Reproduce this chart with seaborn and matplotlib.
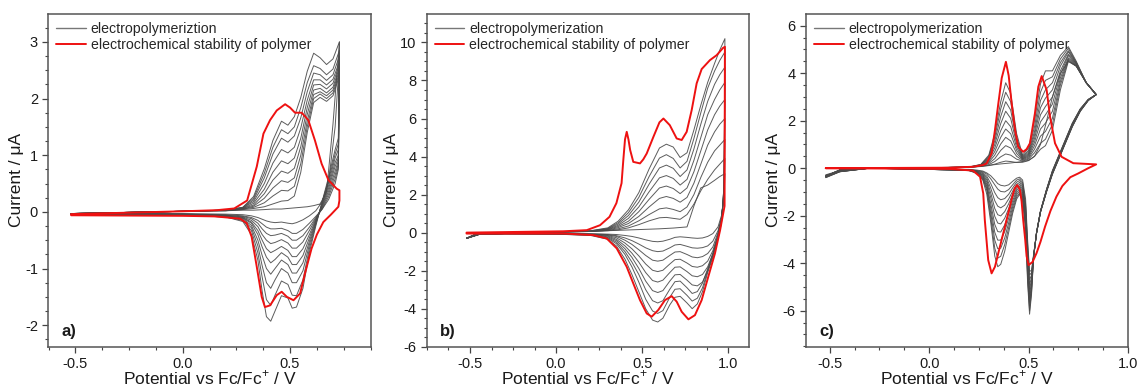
import matplotlib
matplotlib.use("Agg")
import matplotlib.pyplot as plt
from matplotlib.lines import Line2D
from matplotlib.ticker import MultipleLocator, FormatStrFormatter
import seaborn as sns

# ---------------- Panel a ----------------
A_FWD_E = [-0.52, 0.0, 0.2, 0.28, 0.33, 0.38, 0.42, 0.46, 0.49, 0.52, 0.55, 0.58, 0.61, 0.64, 0.67, 0.70, 0.73]
A_FWD = [
    [-0.03, 0.01, 0.02, 0.03, 0.03, 0.04, 0.05, 0.05, 0.06, 0.07, 0.08, 0.09, 0.11, 0.14, 0.35, 1.55, 3.0],
    [-0.03, 0.01, 0.02, 0.04, 0.06, 0.09, 0.14, 0.19, 0.2, 0.28, 0.7, 1.4, 1.93, 2.02, 1.95, 2.05, 2.4],
    [-0.03, 0.01, 0.02, 0.05, 0.08, 0.16, 0.28, 0.38, 0.37, 0.45, 0.85, 1.5, 2.0, 2.08, 2.0, 2.1, 2.45],
    [-0.03, 0.01, 0.03, 0.05, 0.1, 0.24, 0.42, 0.55, 0.52, 0.6, 1.0, 1.6, 2.07, 2.12, 2.05, 2.15, 2.5],
    [-0.03, 0.01, 0.03, 0.06, 0.12, 0.32, 0.56, 0.72, 0.68, 0.77, 1.15, 1.72, 2.15, 2.18, 2.1, 2.2, 2.55],
    [-0.03, 0.01, 0.03, 0.06, 0.15, 0.4, 0.7, 0.9, 0.85, 0.95, 1.3, 1.84, 2.24, 2.25, 2.17, 2.27, 2.6],
    [-0.03, 0.01, 0.03, 0.07, 0.18, 0.5, 0.86, 1.1, 1.04, 1.14, 1.48, 1.97, 2.33, 2.33, 2.24, 2.34, 2.65],
    [-0.03, 0.01, 0.03, 0.07, 0.21, 0.6, 1.02, 1.3, 1.23, 1.34, 1.66, 2.12, 2.45, 2.42, 2.32, 2.42, 2.75],
    [-0.03, 0.01, 0.03, 0.08, 0.24, 0.68, 1.14, 1.45, 1.38, 1.5, 1.84, 2.28, 2.58, 2.53, 2.42, 2.52, 2.85],
    [-0.03, 0.01, 0.03, 0.08, 0.27, 0.76, 1.26, 1.6, 1.53, 1.68, 2.02, 2.48, 2.8, 2.72, 2.6, 2.7, 3.0],
]
A_REV_E = [0.73, 0.725, 0.71, 0.68, 0.65, 0.62, 0.59, 0.56, 0.53, 0.51, 0.49, 0.46, 0.43, 0.41, 0.39, 0.37, 0.35, 0.32, 0.28, 0.2, 0.0, -0.52]
A_REV = [
    [3.0, 2.4, 1.5, 0.55, 0.18, 0.02, -0.07, -0.14, -0.19, -0.21, -0.2, -0.18, -0.19, -0.18, -0.16, -0.13, -0.1, -0.07, -0.05, -0.04, -0.03, -0.03],
    [2.4, 0.75, 0.5, 0.22, 0.05, -0.08, -0.2, -0.31, -0.38, -0.38, -0.33, -0.29, -0.3, -0.3, -0.27, -0.21, -0.15, -0.1, -0.07, -0.05, -0.04, -0.03],
    [2.45, 0.8, 0.58, 0.27, 0.05, -0.1, -0.27, -0.42, -0.5, -0.5, -0.43, -0.38, -0.41, -0.42, -0.38, -0.3, -0.2, -0.12, -0.08, -0.06, -0.04, -0.03],
    [2.5, 0.85, 0.65, 0.32, 0.07, -0.12, -0.33, -0.53, -0.64, -0.64, -0.55, -0.49, -0.54, -0.56, -0.5, -0.4, -0.26, -0.15, -0.09, -0.06, -0.04, -0.03],
    [2.55, 0.9, 0.72, 0.37, 0.09, -0.14, -0.4, -0.65, -0.79, -0.79, -0.68, -0.61, -0.68, -0.72, -0.65, -0.5, -0.33, -0.18, -0.1, -0.07, -0.05, -0.03],
    [2.6, 0.95, 0.8, 0.42, 0.11, -0.16, -0.46, -0.77, -0.93, -0.93, -0.8, -0.72, -0.84, -0.9, -0.8, -0.62, -0.4, -0.2, -0.11, -0.07, -0.05, -0.04],
    [2.65, 1.0, 0.87, 0.47, 0.13, -0.18, -0.52, -0.9, -1.08, -1.08, -0.93, -0.85, -1.0, -1.1, -1.0, -0.77, -0.5, -0.24, -0.12, -0.08, -0.05, -0.04],
    [2.75, 1.1, 0.95, 0.52, 0.15, -0.2, -0.58, -1.04, -1.25, -1.25, -1.08, -1.0, -1.2, -1.35, -1.25, -0.95, -0.6, -0.28, -0.14, -0.08, -0.05, -0.04],
    [2.85, 1.2, 1.02, 0.57, 0.17, -0.22, -0.65, -1.2, -1.48, -1.47, -1.28, -1.22, -1.47, -1.65, -1.55, -1.15, -0.72, -0.33, -0.15, -0.09, -0.06, -0.04],
    [3.0, 1.3, 1.1, 0.62, 0.19, -0.25, -0.72, -1.35, -1.68, -1.7, -1.52, -1.48, -1.75, -1.93, -1.85, -1.4, -0.85, -0.4, -0.17, -0.09, -0.06, -0.04],
]
A_RED_E = [-0.52, 0.0, 0.16, 0.24, 0.3, 0.345, 0.376, 0.407, 0.438, 0.477, 0.5, 0.523, 0.554, 0.585, 0.616,
           0.647, 0.679, 0.717, 0.73, 0.73, 0.725, 0.69, 0.655, 0.625, 0.6, 0.57, 0.547, 0.516, 0.485, 0.461,
           0.438, 0.407, 0.383, 0.368, 0.345, 0.321, 0.298, 0.267, 0.15, 0.0, -0.52]
A_RED_I = [-0.04, 0.01, 0.03, 0.06, 0.2, 0.8, 1.38, 1.62, 1.79, 1.9, 1.84, 1.75, 1.75, 1.62, 1.26,
           0.85, 0.56, 0.41, 0.38, 0.2, 0.09, -0.05, -0.18, -0.4, -0.65, -1.08, -1.44, -1.56, -1.5, -1.41,
           -1.47, -1.65, -1.68, -1.5, -0.97, -0.44, -0.2, -0.12, -0.08, -0.07, -0.06]

# ---------------- Panel b ----------------
B_FWD_E = [-0.52, -0.45, 0.0, 0.2, 0.3, 0.36, 0.42, 0.48, 0.54, 0.6, 0.64, 0.68, 0.72, 0.76, 0.8, 0.84, 0.88, 0.92, 0.95, 0.98]
B_FWD = [
    [-0.3, -0.02, 0.03, 0.06, 0.1, 0.12, 0.14, 0.16, 0.18, 0.2, 0.22, 0.24, 0.27, 0.3, 1.4, 2.35, 2.5, 2.75, 2.95, 3.1],
    [-0.3, -0.02, 0.03, 0.06, 0.1, 0.15, 0.25, 0.42, 0.62, 0.78, 0.8, 0.75, 0.7, 0.95, 1.5, 2.2, 2.8, 3.3, 3.6, 3.9],
    [-0.3, -0.02, 0.03, 0.06, 0.12, 0.2, 0.35, 0.62, 0.95, 1.25, 1.3, 1.22, 1.1, 1.35, 2.0, 2.9, 3.7, 4.3, 4.6, 4.9],
    [-0.3, -0.02, 0.03, 0.07, 0.14, 0.26, 0.48, 0.85, 1.35, 1.8, 1.9, 1.8, 1.6, 1.85, 2.6, 3.6, 4.6, 5.3, 5.7, 6.0],
    [-0.3, -0.02, 0.03, 0.07, 0.16, 0.32, 0.6, 1.1, 1.75, 2.35, 2.45, 2.32, 2.05, 2.35, 3.2, 4.3, 5.4, 6.2, 6.65, 7.0],
    [-0.3, -0.02, 0.03, 0.08, 0.18, 0.38, 0.75, 1.35, 2.15, 2.88, 3.0, 2.85, 2.5, 2.8, 3.8, 5.0, 6.2, 7.0, 7.5, 7.9],
    [-0.3, -0.02, 0.03, 0.08, 0.2, 0.45, 0.9, 1.6, 2.55, 3.4, 3.55, 3.38, 2.95, 3.3, 4.4, 5.7, 6.9, 7.8, 8.3, 8.7],
    [-0.3, -0.02, 0.03, 0.09, 0.22, 0.52, 1.05, 1.85, 2.95, 3.92, 4.1, 3.9, 3.4, 3.75, 4.95, 6.3, 7.6, 8.5, 9.05, 9.5],
    [-0.3, -0.02, 0.03, 0.1, 0.25, 0.6, 1.2, 2.1, 3.35, 4.45, 4.65, 4.5, 3.95, 4.2, 5.4, 6.7, 7.9, 8.9, 9.6, 10.2],
]
B_REV_E = [0.98, 0.975, 0.96, 0.94, 0.91, 0.88, 0.85, 0.82, 0.79, 0.76, 0.72, 0.69, 0.66, 0.62, 0.59, 0.56, 0.52,
           0.48, 0.44, 0.40, 0.35, 0.3, 0.2, 0.0, -0.3, -0.45, -0.52]
B_REV = [
    [3.1, 1.8, 0.9, 0.3, -0.05, -0.2, -0.28, -0.3, -0.28, -0.25, -0.22, -0.25, -0.35, -0.45, -0.48, -0.46, -0.38, -0.28, -0.2, -0.15, -0.1, -0.08, -0.06, -0.05, -0.05, -0.1, -0.3],
    [3.9, 1.9, 0.8, 0.1, -0.45, -0.7, -0.79, -0.82, -0.8, -0.72, -0.62, -0.65, -0.8, -0.97, -1.0, -0.95, -0.8, -0.6, -0.42, -0.28, -0.16, -0.1, -0.07, -0.05, -0.05, -0.1, -0.3],
    [4.9, 2.0, 0.75, 0.0, -0.75, -1.1, -1.26, -1.32, -1.28, -1.15, -1.0, -1.02, -1.2, -1.45, -1.5, -1.45, -1.2, -0.9, -0.62, -0.4, -0.2, -0.12, -0.08, -0.05, -0.05, -0.1, -0.3],
    [6.0, 2.1, 0.7, -0.08, -0.95, -1.5, -1.74, -1.82, -1.78, -1.6, -1.4, -1.42, -1.65, -1.98, -2.05, -1.98, -1.65, -1.22, -0.85, -0.55, -0.27, -0.15, -0.09, -0.06, -0.05, -0.1, -0.3],
    [7.0, 2.2, 0.65, -0.15, -1.1, -1.8, -2.2, -2.32, -2.27, -2.05, -1.8, -1.82, -2.1, -2.5, -2.6, -2.52, -2.1, -1.55, -1.08, -0.7, -0.35, -0.18, -0.1, -0.06, -0.05, -0.1, -0.3],
    [7.9, 2.3, 0.6, -0.2, -1.2, -2.0, -2.6, -2.8, -2.75, -2.5, -2.2, -2.22, -2.55, -3.05, -3.15, -3.05, -2.55, -1.88, -1.3, -0.85, -0.42, -0.22, -0.11, -0.07, -0.06, -0.1, -0.3],
    [8.7, 2.4, 0.6, -0.2, -1.1, -1.9, -2.65, -3.1, -3.2, -2.9, -2.55, -2.58, -2.98, -3.58, -3.7, -3.58, -3.0, -2.2, -1.55, -1.0, -0.5, -0.26, -0.12, -0.07, -0.06, -0.1, -0.3],
    [9.5, 2.5, 0.55, -0.25, -1.2, -2.0, -2.9, -3.45, -3.6, -3.3, -2.95, -2.98, -3.4, -4.1, -4.25, -4.12, -3.5, -2.6, -1.8, -1.15, -0.58, -0.3, -0.13, -0.08, -0.06, -0.1, -0.3],
    [10.2, 2.5, 0.5, -0.3, -1.3, -2.1, -3.1, -3.75, -4.0, -3.7, -3.35, -3.4, -3.8, -4.5, -4.7, -4.6, -4.0, -3.1, -2.2, -1.4, -0.7, -0.35, -0.15, -0.08, -0.07, -0.1, -0.3],
]
B_RED_E = [-0.52, 0.04, 0.178, 0.255, 0.31, 0.35, 0.38, 0.39, 0.4, 0.41, 0.42, 0.43, 0.448, 0.487, 0.506, 0.526,
           0.565, 0.6, 0.623, 0.66, 0.7, 0.729, 0.758, 0.787, 0.816, 0.845, 0.893, 0.932, 0.97, 0.98,
           0.978, 0.952, 0.922, 0.884, 0.845, 0.806, 0.768, 0.729, 0.7, 0.671, 0.632, 0.593, 0.555, 0.526,
           0.487, 0.448, 0.41, 0.352, 0.294, 0.216, 0.042, -0.52]
B_RED_I = [0.0, 0.07, 0.13, 0.39, 0.83, 1.55, 2.6, 3.8, 4.9, 5.3, 4.9, 4.34, 3.72, 3.64, 3.85, 4.16,
           5.04, 5.8, 6.0, 5.65, 4.95, 4.87, 5.3, 6.44, 7.85, 8.6, 9.07, 9.33, 9.72, 9.77,
           1.4, 0.13, -1.1, -2.3, -3.55, -4.34, -4.56, -4.16, -3.63, -3.34, -3.55, -4.07, -4.42, -4.25,
           -3.55, -2.67, -1.8, -0.83, -0.31, -0.13, -0.05, -0.05]

# ---------------- Panel c ----------------
C_FWD_E = [-0.52, -0.45, -0.3, 0.0, 0.2, 0.26, 0.3, 0.33, 0.36, 0.385, 0.41, 0.44, 0.47, 0.5, 0.53, 0.56,
           0.585, 0.62, 0.66, 0.7, 0.74, 0.79, 0.84]
C_FWD = [
    [-0.35, -0.08, 0.0, 0.02, 0.04, 0.08, 0.12, 0.15, 0.18, 0.2, 0.22, 0.25, 0.28, 0.33, 0.5, 1.0, 1.8, 3.0, 4.0, 4.5, 4.3, 3.6, 3.1],
    [-0.35, -0.08, 0.0, 0.02, 0.04, 0.07, 0.11, 0.17, 0.25, 0.3, 0.28, 0.24, 0.25, 0.32, 0.5, 0.8, 0.95, 1.6, 3.3, 4.5, 4.3, 3.6, 3.1],
    [-0.35, -0.08, 0.0, 0.02, 0.04, 0.08, 0.15, 0.28, 0.48, 0.6, 0.55, 0.38, 0.3, 0.38, 0.65, 1.05, 1.22, 1.85, 3.5, 4.55, 4.3, 3.6, 3.1],
    [-0.35, -0.08, 0.0, 0.02, 0.04, 0.09, 0.2, 0.4, 0.75, 0.95, 0.85, 0.5, 0.33, 0.42, 0.8, 1.35, 1.55, 2.1, 3.65, 4.6, 4.3, 3.6, 3.1],
    [-0.35, -0.08, 0.0, 0.02, 0.04, 0.1, 0.25, 0.55, 1.02, 1.3, 1.15, 0.62, 0.36, 0.47, 0.95, 1.65, 1.9, 2.4, 3.8, 4.65, 4.35, 3.6, 3.1],
    [-0.35, -0.08, 0.0, 0.02, 0.04, 0.11, 0.3, 0.7, 1.3, 1.65, 1.45, 0.75, 0.38, 0.52, 1.1, 1.95, 2.25, 2.7, 3.95, 4.75, 4.35, 3.6, 3.1],
    [-0.35, -0.08, 0.0, 0.02, 0.04, 0.12, 0.35, 0.85, 1.58, 2.0, 1.75, 0.88, 0.4, 0.57, 1.25, 2.25, 2.6, 3.0, 4.1, 4.8, 4.4, 3.6, 3.1],
    [-0.35, -0.08, 0.0, 0.02, 0.04, 0.13, 0.4, 1.0, 1.88, 2.4, 2.1, 1.02, 0.43, 0.62, 1.4, 2.55, 2.95, 3.3, 4.3, 4.9, 4.4, 3.6, 3.1],
    [-0.35, -0.08, 0.0, 0.02, 0.04, 0.14, 0.45, 1.15, 2.18, 2.8, 2.45, 1.15, 0.46, 0.68, 1.55, 2.85, 3.3, 3.6, 4.45, 4.95, 4.45, 3.6, 3.1],
    [-0.35, -0.08, 0.0, 0.02, 0.05, 0.15, 0.5, 1.3, 2.5, 3.2, 2.8, 1.3, 0.5, 0.75, 1.75, 3.2, 3.7, 3.85, 4.6, 5.05, 4.45, 3.6, 3.1],
    [-0.35, -0.08, 0.0, 0.02, 0.05, 0.16, 0.55, 1.45, 2.8, 3.6, 3.15, 1.45, 0.55, 0.85, 2.0, 3.55, 4.1, 4.1, 4.75, 5.12, 4.5, 3.6, 3.1],
]
C_REV_E = [0.84, 0.8, 0.76, 0.72, 0.68, 0.65, 0.62, 0.59, 0.56, 0.54, 0.525, 0.515, 0.505, 0.495, 0.485, 0.47,
           0.455, 0.44, 0.42, 0.4, 0.38, 0.36, 0.345, 0.33, 0.31, 0.29, 0.27, 0.24, 0.2, 0.0, -0.3, -0.45, -0.52]
C_REV = [
    [3.1, 2.85, 2.4, 1.75, 0.95, 0.35, -0.25, -1.0, -1.85, -2.75, -3.65, -4.3, -4.35, -3.0, -1.3, -0.5, -0.38, -0.42, -0.55, -0.7, -0.75, -0.72, -0.65, -0.5, -0.32, -0.2, -0.12, -0.08, -0.05, -0.03, 0.0, -0.1, -0.28],
    [3.1, 2.85, 2.4, 1.75, 0.95, 0.35, -0.25, -1.0, -1.85, -2.75, -3.7, -4.4, -4.5, -3.2, -1.5, -0.6, -0.45, -0.5, -0.7, -0.9, -1.0, -0.98, -0.88, -0.7, -0.45, -0.25, -0.15, -0.1, -0.06, -0.04, 0.0, -0.12, -0.3],
    [3.1, 2.86, 2.41, 1.77, 0.97, 0.37, -0.23, -0.99, -1.84, -2.74, -3.71, -4.5, -4.7, -3.38, -1.62, -0.69, -0.52, -0.59, -0.83, -1.1, -1.28, -1.33, -1.24, -1.03, -0.65, -0.34, -0.19, -0.11, -0.06, -0.04, 0.0, -0.12, -0.31],
    [3.1, 2.86, 2.42, 1.78, 0.98, 0.38, -0.22, -0.98, -1.84, -2.74, -3.72, -4.6, -4.9, -3.56, -1.74, -0.78, -0.6, -0.68, -0.97, -1.3, -1.56, -1.67, -1.6, -1.37, -0.85, -0.42, -0.23, -0.12, -0.07, -0.04, 0.0, -0.12, -0.32],
    [3.1, 2.87, 2.43, 1.8, 1.0, 0.4, -0.2, -0.97, -1.83, -2.73, -3.73, -4.7, -5.1, -3.73, -1.87, -0.87, -0.68, -0.77, -1.1, -1.5, -1.83, -2.01, -1.96, -1.7, -1.05, -0.5, -0.27, -0.14, -0.07, -0.04, 0.0, -0.13, -0.33],
    [3.1, 2.87, 2.44, 1.82, 1.02, 0.42, -0.18, -0.96, -1.83, -2.73, -3.74, -4.8, -5.3, -3.91, -1.99, -0.96, -0.75, -0.86, -1.23, -1.7, -2.11, -2.35, -2.31, -2.03, -1.25, -0.59, -0.3, -0.15, -0.08, -0.05, 0.0, -0.13, -0.34],
    [3.1, 2.88, 2.46, 1.83, 1.03, 0.43, -0.17, -0.94, -1.82, -2.72, -3.76, -4.9, -5.5, -4.09, -2.11, -1.04, -0.82, -0.94, -1.37, -1.9, -2.39, -2.69, -2.67, -2.37, -1.5, -0.68, -0.34, -0.16, -0.08, -0.05, 0.0, -0.14, -0.36],
    [3.1, 2.88, 2.47, 1.85, 1.05, 0.45, -0.15, -0.93, -1.82, -2.72, -3.77, -5.0, -5.65, -4.27, -2.23, -1.13, -0.9, -1.03, -1.5, -2.1, -2.67, -3.03, -3.03, -2.7, -1.7, -0.76, -0.38, -0.18, -0.09, -0.05, 0.0, -0.14, -0.37],
    [3.1, 2.89, 2.48, 1.87, 1.07, 0.47, -0.13, -0.92, -1.81, -2.71, -3.78, -5.1, -5.8, -4.44, -2.36, -1.22, -0.97, -1.12, -1.63, -2.3, -2.94, -3.37, -3.39, -3.03, -1.9, -0.85, -0.42, -0.19, -0.09, -0.05, 0.0, -0.15, -0.38],
    [3.1, 2.89, 2.49, 1.88, 1.08, 0.48, -0.12, -0.91, -1.81, -2.71, -3.79, -5.2, -6.0, -4.62, -2.48, -1.31, -1.05, -1.21, -1.77, -2.5, -3.22, -3.71, -3.79, -3.37, -2.1, -0.93, -0.46, -0.2, -0.1, -0.05, 0.0, -0.15, -0.39],
    [3.1, 2.9, 2.5, 1.9, 1.1, 0.5, -0.1, -0.9, -1.8, -2.7, -3.8, -5.3, -6.15, -4.8, -2.6, -1.4, -1.1, -1.3, -1.9, -2.7, -3.5, -4.05, -4.15, -3.7, -2.3, -1.1, -0.5, -0.22, -0.1, -0.05, 0.0, -0.15, -0.4],
]
C_RED_E = [-0.52, 0.1, 0.22, 0.27, 0.289, 0.314, 0.331, 0.348, 0.365, 0.386, 0.4, 0.415, 0.432, 0.448, 0.473,
           0.49, 0.507, 0.532, 0.549, 0.566, 0.591, 0.608, 0.633, 0.666, 0.725, 0.84,
           0.8, 0.75, 0.71, 0.67, 0.64, 0.61, 0.583, 0.56, 0.54, 0.52, 0.5, 0.49, 0.483, 0.473, 0.465,
           0.457, 0.443, 0.43, 0.418, 0.406, 0.38, 0.356, 0.331, 0.314, 0.297, 0.28, 0.272, 0.256, 0.22,
           0.1, -0.52]
C_RED_I = [0.0, 0.02, 0.06, 0.13, 0.2, 0.63, 1.61, 2.73, 3.8, 4.48, 3.9, 2.73, 1.61, 0.9, 0.69,
           0.8, 1.05, 2.31, 3.43, 3.88, 3.29, 2.17, 1.05, 0.48, 0.21, 0.16,
           0.0, -0.22, -0.38, -0.75, -1.2, -1.8, -2.46, -3.1, -3.58, -3.95, -4.08, -3.7, -3.0, -2.18, -1.4,
           -0.92, -0.71, -0.85, -1.2, -1.62, -2.5, -3.3, -4.15, -4.43, -3.87, -2.19, -1.06, -0.36, -0.1,
           -0.03, 0.0]

LEGEND_A = ["electropolymeriztion", "electrochemical stability of polymer"]
LEGEND_BC = ["electropolymerization", "electrochemical stability of polymer"]

GREY = "#4a4a4a"
RED = "#ee1111"

sns.set_theme(style="ticks")
plt.rcParams["font.family"] = ["Liberation Sans", "DejaVu Sans"]
plt.rcParams["mathtext.fontset"] = "custom"
plt.rcParams["mathtext.rm"] = "Liberation Sans"
plt.rcParams["axes.unicode_minus"] = False

fig = plt.figure(figsize=(11.38, 3.89), dpi=100)

panels = [
    dict(pos=[0.0425, 0.1087, 0.2833, 0.855], xlim=(-0.626, 0.876), ylim=(-2.38, 3.49),
         ymaj=1, ymin=0.25, xticks=[-0.5, 0.0, 0.5], letter="a)", legend=LEGEND_A,
         fe=A_FWD_E, fw=A_FWD, re=A_REV_E, rv=A_REV, rx=A_RED_E, ry=A_RED_I),
    dict(pos=[0.375, 0.1087, 0.2832, 0.855], xlim=(-0.751, 1.12), ylim=(-6.0, 11.49),
         ymaj=2, ymin=0.5, xticks=[-0.5, 0.0, 0.5, 1.0], letter="b)", legend=LEGEND_BC,
         fe=B_FWD_E, fw=B_FWD, re=B_REV_E, rv=B_REV, rx=B_RED_E, ry=B_RED_I),
    dict(pos=[0.7085, 0.1087, 0.2827, 0.855], xlim=(-0.618, 1.0), ylim=(-7.52, 6.49),
         ymaj=2, ymin=0.5, xticks=[-0.5, 0.0, 0.5, 1.0], letter="c)", legend=LEGEND_BC,
         fe=C_FWD_E, fw=C_FWD, re=C_REV_E, rv=C_REV, rx=C_RED_E, ry=C_RED_I),
]

for p in panels:
    ax = fig.add_axes(p["pos"])
    for f, r in zip(p["fw"], p["rv"]):
        sns.lineplot(x=p["fe"] + p["re"], y=f + r, sort=False, estimator=None,
                     color=GREY, lw=0.7, alpha=0.9, ax=ax)
    sns.lineplot(x=p["rx"], y=p["ry"], sort=False, estimator=None, color=RED, lw=1.4, ax=ax)

    ax.set_xlim(*p["xlim"])
    ax.set_ylim(*p["ylim"])
    ax.set_xticks(p["xticks"])
    ax.xaxis.set_major_formatter(FormatStrFormatter("%.1f"))
    ax.xaxis.set_minor_locator(MultipleLocator(0.125))
    ax.yaxis.set_major_locator(MultipleLocator(p["ymaj"]))
    ax.yaxis.set_minor_locator(MultipleLocator(p["ymin"]))
    ax.tick_params(which="both", direction="out", top=False, right=False, color="#444444",
                   labelsize=10.5, labelcolor="#1a1a1a")
    ax.tick_params(which="major", length=4, width=0.9)
    ax.tick_params(which="minor", length=2.5, width=0.8)
    for s in ax.spines.values():
        s.set_color("#555555")
        s.set_linewidth(1.1)
    ax.set_xlabel(r"Potential vs Fc/Fc$^{\mathregular{+}}$ / V", fontsize=12.5, color="#1a1a1a", labelpad=-1.5)
    ax.set_ylabel("Current / \u03bcA", fontsize=12.5, color="#1a1a1a", labelpad=1)
    handles = [Line2D([], [], color="#777777", lw=1.0), Line2D([], [], color=RED, lw=1.4)]
    ax.legend(handles=handles, labels=p["legend"], loc="upper left", frameon=False,
              fontsize=10.2, handlelength=2.1, handletextpad=0.35, borderaxespad=0.2,
              borderpad=0.35, labelspacing=0.15)
    ax.text(0.04, 0.045, p["letter"], transform=ax.transAxes, fontsize=12,
            fontweight="bold", va="center", ha="left", color="#1a1a1a")

fig.savefig("out.png", dpi=100)
